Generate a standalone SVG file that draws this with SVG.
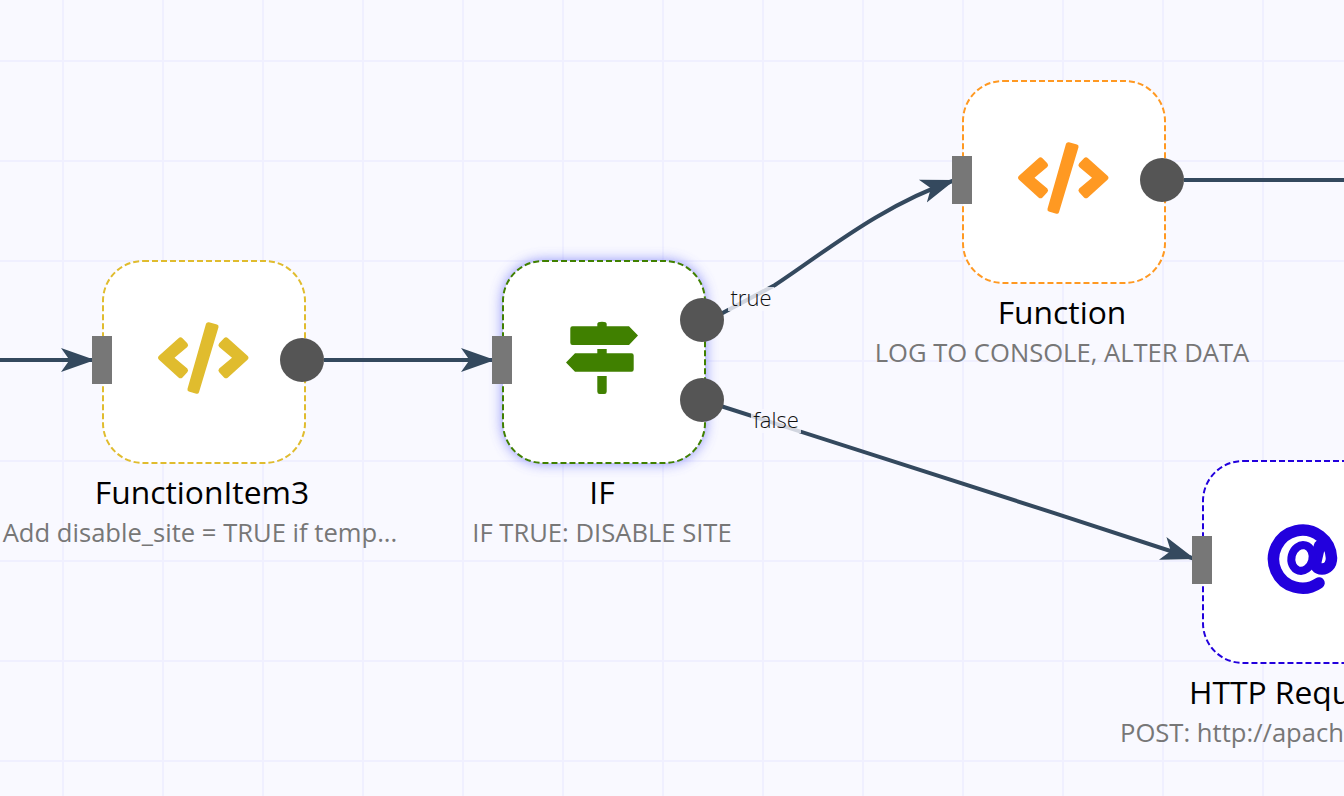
<svg xmlns="http://www.w3.org/2000/svg" width="1344" height="796" viewBox="0 0 1344 796">
<defs>
<style>
.grid line{stroke:#f0f0ff;stroke-width:2}
.card{fill:#fff;stroke-width:2;stroke-dasharray:6 3}
.in{fill:#777}
.out{fill:#555}
.title{font-family:"Open Sans",sans-serif;font-size:31.8px;fill:#000;text-anchor:middle}
.sub{font-family:"Open Sans",sans-serif;font-size:25.6px;fill:#777;text-anchor:middle}
.lab{font-family:"Open Sans",sans-serif;font-size:22px;font-weight:300;fill:#111;text-anchor:middle}
.conn{fill:none;stroke:#34495e;stroke-width:4}
.lb{fill:#f9f9ff;fill-opacity:.8}
</style>
<marker id="arrow" markerUnits="userSpaceOnUse" markerWidth="40" markerHeight="30" refX="34" refY="12" orient="auto" viewBox="0 0 40 24">
<path d="M0,0 L34,12 L0,24 L8.5,12 Z" fill="#34495e"/>
</marker>
<filter id="glow" x="-20%" y="-20%" width="140%" height="140%"><feGaussianBlur stdDeviation="7"/></filter>
<path id="code" d="M178.5,338.2 Q180.500,336.300 182.500,338.200 L187.300,343.300 Q189,345.200 187.300,347 L174.500,357.800 L187.300,368.500 Q189,370.400 187.300,372.300 L182.500,377.400 Q180.500,379.300 178.500,377.400 L159,359.800 Q157,357.800 159,355.800 Z M247.500,355.800 Q249.500,357.800 247.500,359.800 L228,377.400 Q226,379.300 224,377.400 L219.200,372.300 Q217.500,370.400 219.200,368.500 L232,357.800 L219.200,347 Q217.500,345.200 219.200,343.300 L224,338.200 Q226,336.300 228,338.200 Z M209,322.300 L217,324.500 Q219,325.200 218.500,327.200 L199,392.300 Q198.300,394.300 196.300,393.700 L188.800,391.500 Q187,390.800 187.500,388.800 L206,323.800 Q206.800,321.800 209,322.300 Z"/>
</defs>
<rect width="1344" height="796" fill="#f9f9ff"/>
<g class="grid">
<line x1="63" y1="0" x2="63" y2="796"/><line x1="163" y1="0" x2="163" y2="796"/><line x1="263" y1="0" x2="263" y2="796"/><line x1="363" y1="0" x2="363" y2="796"/><line x1="463" y1="0" x2="463" y2="796"/><line x1="563" y1="0" x2="563" y2="796"/><line x1="663" y1="0" x2="663" y2="796"/><line x1="763" y1="0" x2="763" y2="796"/><line x1="863" y1="0" x2="863" y2="796"/><line x1="963" y1="0" x2="963" y2="796"/><line x1="1063" y1="0" x2="1063" y2="796"/><line x1="1163" y1="0" x2="1163" y2="796"/><line x1="1263" y1="0" x2="1263" y2="796"/>
<line x1="0" y1="61" x2="1344" y2="61"/><line x1="0" y1="161" x2="1344" y2="161"/><line x1="0" y1="261" x2="1344" y2="261"/><line x1="0" y1="361" x2="1344" y2="361"/><line x1="0" y1="461" x2="1344" y2="461"/><line x1="0" y1="561" x2="1344" y2="561"/><line x1="0" y1="661" x2="1344" y2="661"/><line x1="0" y1="761" x2="1344" y2="761"/>
</g>
<g id="connectors">
<path class="conn" d="M0,360 L95,360" marker-end="url(#arrow)"/>
<path class="conn" d="M324,360 L495,360" marker-end="url(#arrow)"/>
<path class="conn" d="M702,324 L775,285 C825,252 880,206 955,180" marker-end="url(#arrow)"/>
<path class="conn" d="M702,400 C860,450 1030,505 1195,559" marker-end="url(#arrow)"/>
<path class="conn" d="M1184,180 L1344,180"/>
<rect class="lb" x="728" y="287" width="46" height="24"/>
<text class="lab" x="751" y="306">true</text>
<rect class="lb" x="751" y="409" width="50" height="24"/>
<text class="lab" x="776" y="428">false</text>
</g>
<g id="FunctionItem3">
<rect class="card" x="103" y="261" width="202" height="202" rx="40" stroke="#e0bc2e"/>
<use href="#code" fill="#e0bc2e"/>
<rect class="in" x="92" y="336" width="20" height="48"/>
<circle class="out" cx="302" cy="360" r="22"/>
<text class="title" x="202" y="504">FunctionItem3</text>
<text class="sub" x="200" y="542">Add disable_site = TRUE if temp...</text>
</g>
<g id="IF">
<rect x="503" y="261" width="202" height="202" rx="40" fill="#5a60f5" opacity=".75" filter="url(#glow)"/>
<rect class="card" x="503" y="261" width="202" height="202" rx="40" stroke="#408000"/>
<path fill="#408000" d="M597.300,326.300 V324 Q597.300,321.700 602,321.700 Q606.700,321.700 606.700,324 V326.300 H629 L638,335.500 L629,345 H572.500 Q570.300,345 570.300,342.800 V328.500 Q570.300,326.300 572.500,326.300 Z M597.300,349 H606.700 V353.300 H631.500 Q633.700,353.300 633.700,355.500 V369.500 Q633.700,371.700 631.500,371.700 H575 L566,362.500 L575,353.300 H597.300 Z M597.300,376 H606.700 V391.500 Q606.700,394 604.300,394 H599.700 Q597.300,394 597.300,391.500 Z"/>
<rect class="in" x="492" y="336" width="20" height="48"/>
<circle class="out" cx="702" cy="320" r="22"/>
<circle class="out" cx="702" cy="400" r="22"/>
<text class="title" x="602" y="504">IF</text>
<text class="sub" x="602" y="542">IF TRUE: DISABLE SITE</text>
</g>
<g id="Function">
<rect class="card" x="963" y="81" width="202" height="202" rx="40" stroke="#ff9922"/>
<use href="#code" fill="#ff9922" transform="translate(860 -180)"/>
<rect class="in" x="952" y="156" width="20" height="48"/>
<circle class="out" cx="1162" cy="180" r="22"/>
<text class="title" x="1062" y="324">Function</text>
<text class="sub" x="1062" y="362">LOG TO CONSOLE, ALTER DATA</text>
</g>
<g id="HTTPRequest">
<rect class="card" x="1203" y="461" width="202" height="202" rx="40" stroke="#2200dd"/>
<path fill="none" stroke="#2200dd" stroke-width="11.500" stroke-linecap="round" stroke-linejoin="round" d="M1319,583 A29,29 0 1 1 1331.500,558 C1331.500,565 1327,569 1322,569 C1317,569 1315,566 1316,561 L1319.500,546"/>
<ellipse cx="1302" cy="558" rx="10.500" ry="13" transform="rotate(15 1302 558)" fill="none" stroke="#2200dd" stroke-width="8"/>
<rect class="in" x="1192" y="536" width="20" height="48"/>
<text class="title" x="1189" y="704" style="text-anchor:start">HTTP Request</text>
<text class="sub" x="1120" y="742" style="text-anchor:start">POST: http://apach</text>
</g>
</svg>
